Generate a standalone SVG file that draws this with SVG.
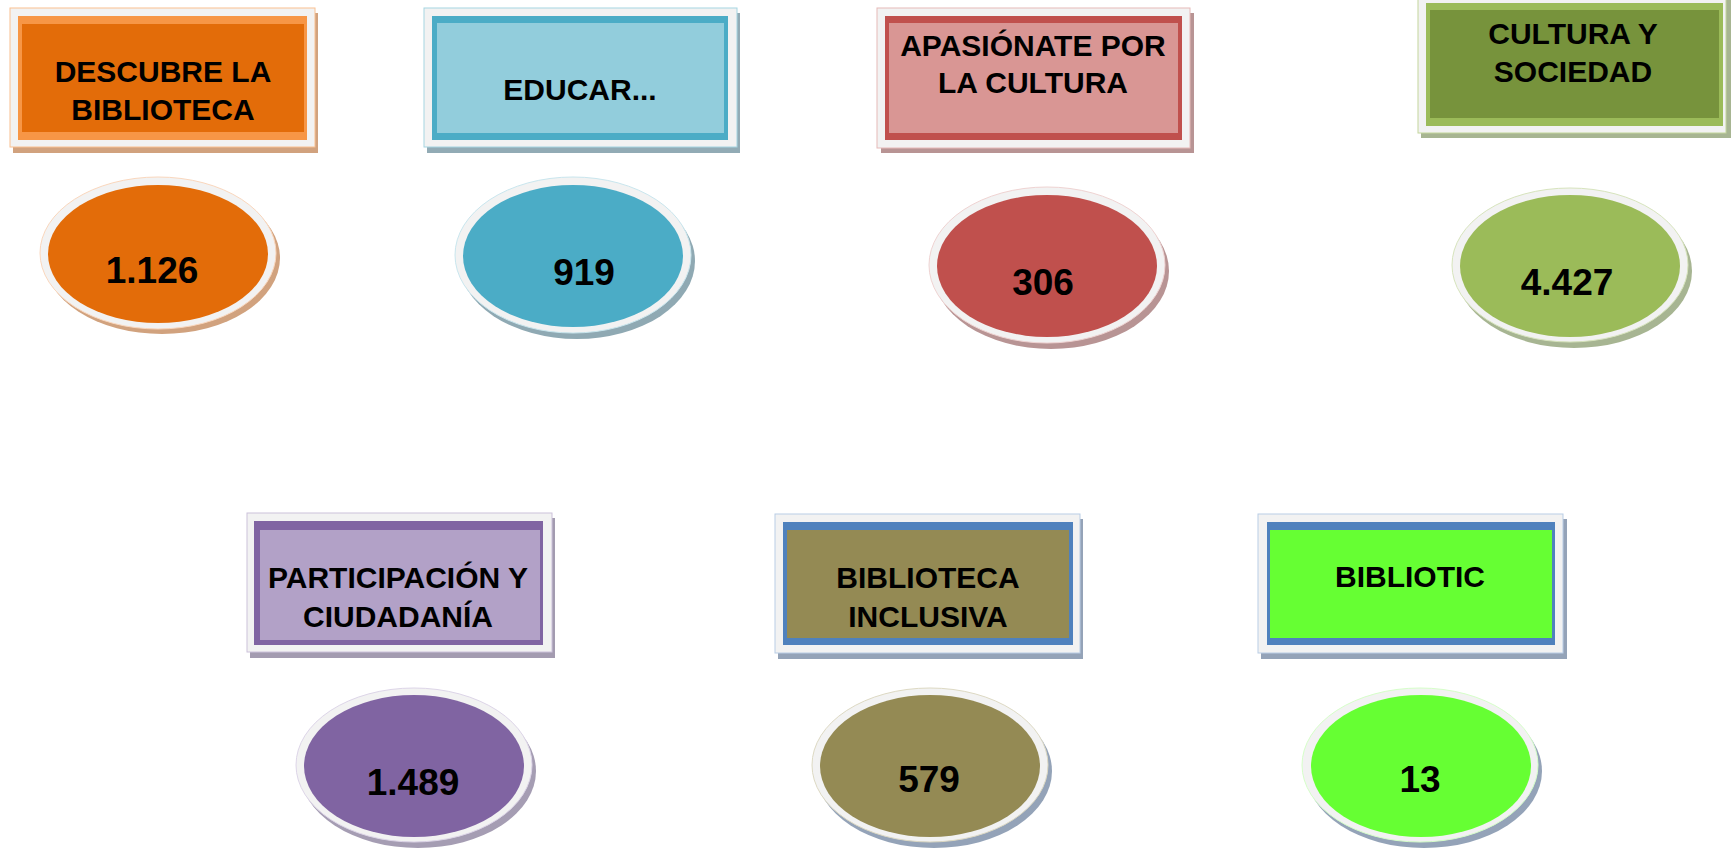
<svg xmlns="http://www.w3.org/2000/svg" width="1733" height="848" viewBox="0 0 1733 848">
<style>
.frame{fill:#F2F2F2;stroke-width:1}
.lbl{font-family:"Liberation Sans",Arial,sans-serif;font-weight:bold;font-size:30px;fill:#000;text-anchor:middle}
.num{font-family:"Liberation Sans",Arial,sans-serif;font-weight:bold;font-size:37px;fill:#000;text-anchor:middle}
.rim{fill:#F2F2F2}
</style>
<rect width="1733" height="848" fill="#FFFFFF"/>
<g id="box-descubre">
<rect x="13" y="13" width="305" height="140" fill="#D1A27E"/>
<rect class="frame" x="10" y="8" width="305" height="139" stroke="#FAC090"/>
<rect x="18" y="16" width="289" height="124" fill="#F79646"/>
<rect x="22" y="24" width="282" height="108" fill="#E36C09"/>
<text class="lbl" x="163" y="82">DESCUBRE LA</text>
<text class="lbl" x="163" y="120">BIBLIOTECA</text>
</g>
<g id="num-descubre">
<ellipse cx="162" cy="258" rx="118" ry="76" fill="#D1A27E"/>
<ellipse class="rim" cx="158" cy="253" rx="118" ry="76" stroke="#FAD7BD" stroke-width="1"/>
<ellipse cx="158" cy="254" rx="110" ry="69" fill="#E36C09"/>
<text class="num" x="152" y="283">1.126</text>
</g>
<g id="box-educar">
<rect x="427" y="13" width="313" height="140" fill="#92ABB5"/>
<rect class="frame" x="424" y="8" width="313" height="139" stroke="#A5D5E2"/>
<rect x="432" y="16" width="296" height="124" fill="#4BACC6"/>
<rect x="437" y="23" width="287" height="110" fill="#92CDDC"/>
<text class="lbl" x="580" y="100">EDUCAR...</text>
</g>
<g id="num-educar">
<ellipse cx="577" cy="261" rx="118" ry="78" fill="#8FA9B3"/>
<ellipse class="rim" cx="573" cy="255" rx="118" ry="78" stroke="#C9E6EE" stroke-width="1"/>
<ellipse cx="573" cy="256" rx="110" ry="71" fill="#4BACC6"/>
<text class="num" x="584" y="285">919</text>
</g>
<g id="box-apasionate">
<rect x="881" y="13" width="313" height="140" fill="#B89494"/>
<rect class="frame" x="877" y="8" width="313" height="140" stroke="#E6B9B8"/>
<rect x="885" y="16" width="297" height="124" fill="#C0504D"/>
<rect x="889" y="23" width="289" height="110" fill="#D99694"/>
<text class="lbl" x="1033" y="56">APASIÓNATE POR</text>
<text class="lbl" x="1033" y="93">LA CULTURA</text>
</g>
<g id="num-apasionate">
<ellipse cx="1051" cy="271" rx="118" ry="78" fill="#B89494"/>
<ellipse class="rim" cx="1047" cy="265" rx="118" ry="78" stroke="#EFD3D2" stroke-width="1"/>
<ellipse cx="1047" cy="266" rx="110" ry="71" fill="#C0504D"/>
<text class="num" x="1043" y="295">306</text>
</g>
<g id="box-cultura">
<rect x="1421" y="-2" width="310" height="140" fill="#A7B592"/>
<rect class="frame" x="1418" y="-7" width="308" height="140" stroke="#C3D69B"/>
<rect x="1426" y="3" width="297" height="123" fill="#9BBB59"/>
<rect x="1430" y="10" width="289" height="108" fill="#77933C"/>
<text class="lbl" x="1573" y="44">CULTURA Y</text>
<text class="lbl" x="1573" y="82">SOCIEDAD</text>
</g>
<g id="num-cultura">
<ellipse cx="1574" cy="271" rx="118" ry="77" fill="#A7B592"/>
<ellipse class="rim" cx="1570" cy="265" rx="118" ry="77" stroke="#D7E4BD" stroke-width="1"/>
<ellipse cx="1570" cy="266" rx="110" ry="71" fill="#9BBB59"/>
<text class="num" x="1567" y="295">4.427</text>
</g>
<g id="box-participacion">
<rect x="250" y="518" width="305" height="140" fill="#A39BB0"/>
<rect class="frame" x="247" y="513" width="305" height="139" stroke="#CCC1DA"/>
<rect x="254" y="521" width="289" height="124" fill="#8064A2"/>
<rect x="260" y="530" width="280" height="110" fill="#B2A1C7"/>
<text class="lbl" x="398" y="588">PARTICIPACIÓN Y</text>
<text class="lbl" x="398" y="627">CIUDADANÍA</text>
</g>
<g id="num-participacion">
<ellipse cx="418" cy="771" rx="118" ry="77" fill="#A59DB3"/>
<ellipse class="rim" cx="414" cy="765" rx="118" ry="77" stroke="#DDD5E8" stroke-width="1"/>
<ellipse cx="414" cy="766" rx="110" ry="71" fill="#8064A2"/>
<text class="num" x="413" y="795">1.489</text>
</g>
<g id="box-inclusiva">
<rect x="778" y="519" width="305" height="140" fill="#94A3B8"/>
<rect class="frame" x="775" y="514" width="305" height="139" stroke="#B9CDE5"/>
<rect x="783" y="522" width="290" height="123" fill="#4F81BD"/>
<rect x="787" y="530" width="282" height="108" fill="#948A54"/>
<text class="lbl" x="928" y="588">BIBLIOTECA</text>
<text class="lbl" x="928" y="627">INCLUSIVA</text>
</g>
<g id="num-inclusiva">
<ellipse cx="934" cy="771" rx="118" ry="77" fill="#94A3B8"/>
<ellipse class="rim" cx="930" cy="765" rx="118" ry="77" stroke="#DDD9C3" stroke-width="1"/>
<ellipse cx="930" cy="766" rx="110" ry="71" fill="#948A54"/>
<text class="num" x="929" y="792">579</text>
</g>
<g id="box-bibliotic">
<rect x="1261" y="519" width="306" height="140" fill="#94A3B8"/>
<rect class="frame" x="1258" y="514" width="305" height="139" stroke="#B9CDE5"/>
<rect x="1267" y="522" width="288" height="123" fill="#4F81BD"/>
<rect x="1270" y="530" width="282" height="108" fill="#66FF33"/>
<text class="lbl" x="1410" y="587">BIBLIOTIC</text>
</g>
<g id="num-bibliotic">
<ellipse cx="1424" cy="771" rx="118" ry="77" fill="#94A3B8"/>
<ellipse class="rim" cx="1420" cy="765" rx="118" ry="77" stroke="#D6FFC9" stroke-width="1"/>
<ellipse cx="1421" cy="766" rx="110" ry="71" fill="#66FF33"/>
<text class="num" x="1420" y="792">13</text>
</g>
<g id="connectors"></g>
</svg>
